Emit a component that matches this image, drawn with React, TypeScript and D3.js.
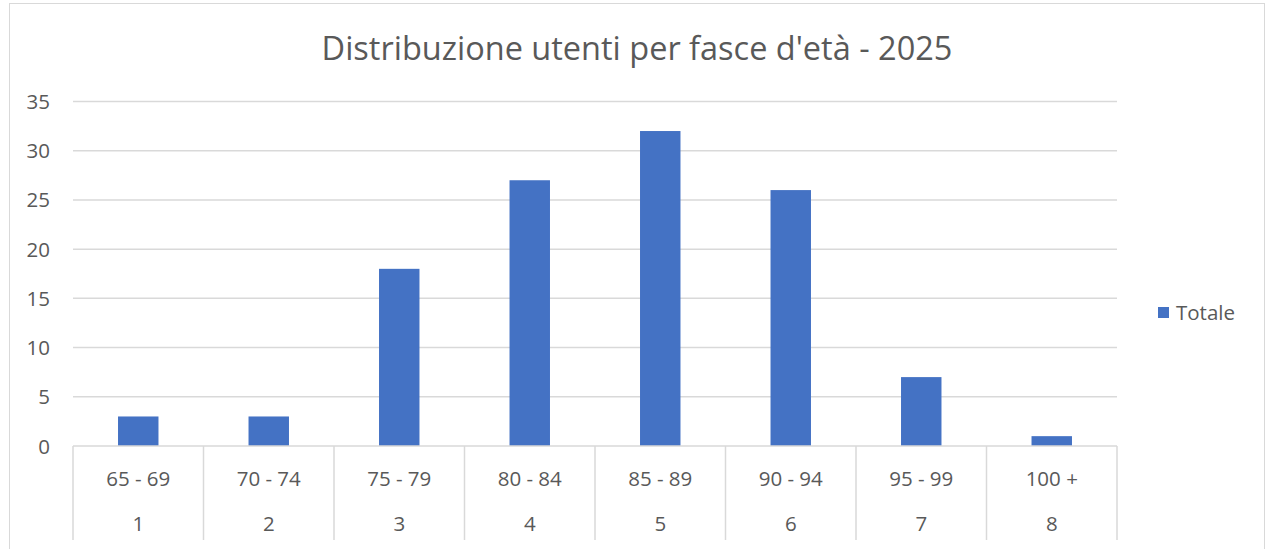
import React from "react";
import * as d3 from "d3";

const categories = ["65 - 69", "70 - 74", "75 - 79", "80 - 84", "85 - 89", "90 - 94", "95 - 99", "100 +"];
const groups = ["1", "2", "3", "4", "5", "6", "7", "8"];
const values = [3, 3, 18, 27, 32, 26, 7, 1];
const yTicks = [0, 5, 10, 15, 20, 25, 30, 35];
const title = "Distribuzione utenti per fasce d'età - 2025";
const seriesName = "Totale";

export default function App() {
  const W = 1266, H = 549;
  const left = 73, right = 1117, top = 101.5, bottom = 446;
  const x = d3.scaleBand<string>().domain(categories).range([left, right]).paddingInner(0.69).paddingOuter(0.345);
  const xc = d3.scaleBand<string>().domain(categories).range([left, right]);
  const y = d3.scaleLinear().domain([0, 35]).range([bottom, top]);
  const font = "'Open Sans', 'Noto Sans', sans-serif";
  const txt = "#595959";
  const grid = "#d9d9d9";
  return (
    <svg width={W} height={H} style={{ position: "absolute", left: 0, top: 0, display: "block" }} fontFamily={font}>
      <rect x={0} y={0} width={W} height={H} fill="#fff" />
      <rect x={9.5} y={3.5} width={W - 11} height={H + 10} fill="none" stroke={grid} strokeWidth={1} />
      <text x={637} y={60} textAnchor="middle" fontSize={32.5} fill={txt}>{title}</text>
      {yTicks.map((t) => (
        <g key={t}>
          {t > 0 && <line x1={left} x2={right} y1={y(t)} y2={y(t)} stroke={grid} strokeWidth={1.5} />}
          <text x={50} y={y(t) + 7.5} textAnchor="end" fontSize={20.5} fill={txt}>{t}</text>
        </g>
      ))}
      {values.map((v, i) => (
        <rect key={i} x={x(categories[i])!} y={y(v)} width={x.bandwidth()} height={y(0) - y(v)} fill="#4472c4" />
      ))}
      <line x1={left} x2={right} y1={bottom} y2={bottom} stroke={grid} strokeWidth={1.5} />
      {categories.concat(["end"]).map((c, i) => {
        const xx = left + i * xc.bandwidth();
        return <line key={i} x1={xx} x2={xx} y1={bottom} y2={540} stroke={grid} strokeWidth={1.5} />;
      })}
      {categories.map((c, i) => (
        <g key={c}>
          <text x={xc(c)! + xc.bandwidth() / 2} y={485.5} textAnchor="middle" fontSize={20.5} fill={txt}>{c}</text>
          <text x={xc(c)! + xc.bandwidth() / 2} y={531} textAnchor="middle" fontSize={20.5} fill={txt}>{groups[i]}</text>
        </g>
      ))}
      <rect x={1158} y={307} width={11} height={11} fill="#4472c4" />
      <text x={1176} y={320} fontSize={20.5} fill={txt}>{seriesName}</text>
    </svg>
  );
}
